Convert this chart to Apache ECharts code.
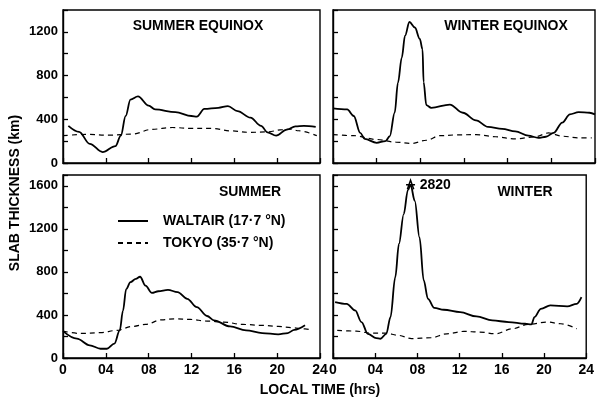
<!DOCTYPE html>
<html>
<head>
<meta charset="utf-8">
<script src="https://cdn.jsdelivr.net/npm/echarts@6/dist/echarts.min.js"></script>
<style>
  html, body { margin: 0; padding: 0; background: #fff; }
  #chart { width: 597px; height: 398px; }
</style>
</head>
<body>
<div id="chart"></div>
<script>
// slab thickness, [local time (hrs), km]
var hourTicks = ['0', '04', '08', '12', '16', '20', '24'];
var waltairName = 'WALTAIR (17·7 °N)';
var tokyoName = 'TOKYO (35·7 °N)';

// summer equinox
var seWaltair = [[0.5,340],[1.5,285],[2.5,175],[3.7,100],[4.9,155],[5.4,250],[5.85,430],[6.3,580],[7.0,610],[8.0,525],[8.6,490],[10.5,465],[12.0,430],[12.5,425],[13.2,495],[14.5,505],[15.4,520],[16.3,475],[17.5,415],[18.5,340],[19.1,280],[19.9,250],[20.9,305],[21.7,335],[22.5,340],[23.6,330]];
var seTokyo = [[0,250],[2.2,262],[4.3,255],[6.5,265],[8.3,308],[10.2,325],[12,316],[13.9,316],[15.7,294],[17.5,280],[19.1,285],[20.5,305],[21.3,310],[22,295],[23.7,250]];

// winter equinox
var weWaltair = [[0,500],[1.3,490],[1.9,430],[2.5,275],[2.9,220],[4.0,185],[4.8,200],[5.2,245],[5.65,460],[5.95,735],[6.3,965],[6.6,1165],[7.0,1290],[7.5,1240],[7.95,1135],[8.2,1040],[8.3,740],[8.55,530],[9.0,505],[10.7,535],[11.9,460],[13.1,390],[14.2,330],[15.5,313],[16.7,290],[17.9,250],[18.8,230],[19.5,240],[20.2,275],[21,370],[21.7,445],[22.5,465],[23.5,460],[24,445]];
var weTokyo = [[0,260],[1.9,250],[4,215],[5.8,190],[7.2,178],[8.55,208],[9.8,250],[11.3,257],[13.1,260],[14.9,240],[16.7,220],[18.5,240],[19.75,275],[21,245],[22.5,230],[23.7,230]];

// summer
var sWaltair = [[0,250],[1.3,180],[2.5,118],[3.5,86],[4.1,86],[4.8,133],[5.3,256],[5.6,440],[5.9,640],[6.3,705],[6.8,735],[7.2,755],[7.7,673],[8.3,605],[8.9,620],[9.8,633],[10.7,612],[11.6,550],[12.5,473],[13.45,390],[14.1,350],[15.6,293],[17.1,256],[18.6,232],[20.1,219],[21,232],[21.6,262],[22.6,305]];
var sTokyo = [[0,250],[1.6,228],[3.5,235],[5,256],[6.5,293],[7.7,312],[9.2,355],[10.4,364],[11.9,358],[13.45,343],[15,334],[16.8,312],[18.6,303],[20.1,293],[21.3,282],[22.6,270],[23.2,262]];

// winter
var wWaltair = [[0.2,520],[1.3,503],[2.1,442],[2.7,334],[3.3,225],[4.1,185],[4.5,179],[5.05,225],[5.45,380],[5.9,750],[6.25,1060],[6.7,1335],[7.1,1560],[7.35,1610],[7.75,1460],[8.2,1120],[8.6,720],[9.0,550],[9.6,466],[10.5,448],[12.05,426],[13.6,386],[15.1,349],[16.65,334],[18.2,318],[18.8,312],[19.1,380],[19.7,457],[20.6,488],[22.2,479],[23.1,503],[23.55,565]];
var wTokyo = [[0.4,256],[2.2,250],[3.5,232],[5,232],[6.2,210],[7.45,180],[9.3,188],[10.8,225],[12.4,247],[13.9,241],[15.4,225],[17,272],[18.5,312],[20.3,334],[21.6,318],[23.1,272]];
var winterPeak = [[7.35, 1610, 2820]];

var font = "'Liberation Sans', Arial, sans-serif";
var ink = '#000';

var myChart = echarts.init(document.getElementById('chart'));

function xAxisFor(gridIndex, showLabels) {
    return {
        type: 'value', gridIndex: gridIndex, min: 0, max: 24, interval: 4,
        axisLine: { show: true, lineStyle: { color: ink, width: 1.4 } },
        axisTick: { show: true, inside: true, length: 5, lineStyle: { color: ink, width: 1.3 } },
        splitLine: { show: false },
        axisLabel: {
            show: showLabels, margin: 5, color: ink, fontFamily: font, fontSize: 14, fontWeight: 'bold',
            formatter: function (v) { return hourTicks[v / 4]; }
        }
    };
}

function yAxisFor(gridIndex, max, showLabels) {
    return {
        type: 'value', gridIndex: gridIndex, min: 0, max: max, interval: 200,
        axisLine: { show: true, lineStyle: { color: ink, width: 1.4 } },
        axisTick: { show: true, inside: true, length: 5, lineStyle: { color: ink, width: 1.3 } },
        splitLine: { show: false },
        axisLabel: {
            show: showLabels, margin: 5, color: ink, fontFamily: font, fontSize: 13, fontWeight: 'bold',
            formatter: function (v) { return v % 400 === 0 ? String(v) : ''; }
        }
    };
}

function curve(name, data, idx, dashed) {
    return {
        name: name, type: 'line', xAxisIndex: idx, yAxisIndex: idx,
        data: data, symbol: 'none', smooth: 0.35, smoothMonotone: 'x',
        color: ink,
        lineStyle: { color: ink, width: dashed ? 1.2 : 1.8, type: dashed ? [5, 4] : 'solid' },
        z: dashed ? 3 : 4
    };
}

var gridBox = { show: true, borderColor: ink, borderWidth: 1.4, backgroundColor: 'transparent' };

function label(text, x, y, rotation) {
    return {
        type: 'text', x: x, y: y, rotation: rotation || 0,
        style: { text: text, font: 'bold 14px ' + font, fill: ink, align: 'center', verticalAlign: 'middle' }
    };
}

var option = {
    backgroundColor: '#fff',
    animation: false,
    grid: [
        Object.assign({ left: 63, top: 10, width: 257, height: 153 }, gridBox),
        Object.assign({ left: 333, top: 10, width: 262, height: 153 }, gridBox),
        Object.assign({ left: 63, top: 175, width: 257, height: 183 }, gridBox),
        Object.assign({ left: 333, top: 175, width: 262, height: 183 }, gridBox)
    ],
    xAxis: [xAxisFor(0, false), xAxisFor(1, false), xAxisFor(2, true), xAxisFor(3, true)],
    yAxis: [yAxisFor(0, 1400, true), yAxisFor(1, 1400, false), yAxisFor(2, 1700, true), yAxisFor(3, 1700, false)],
    legend: {
        left: 112, top: 209, orient: 'vertical', itemGap: 8,
        itemWidth: 30, itemHeight: 12,
        data: [waltairName, tokyoName],
        itemStyle: { opacity: 0 },
        textStyle: { color: ink, fontFamily: font, fontSize: 14, fontWeight: 'bold', padding: [0, 0, 0, 10] }
    },
    series: [
        curve(waltairName, seWaltair, 0, false),
        curve(tokyoName, seTokyo, 0, true),
        curve(waltairName, weWaltair, 1, false),
        curve(tokyoName, weTokyo, 1, true),
        curve(waltairName, sWaltair, 2, false),
        curve(tokyoName, sTokyo, 2, true),
        curve(waltairName, wWaltair, 3, false),
        curve(tokyoName, wTokyo, 3, true),
        {
            name: 'peak', type: 'scatter', xAxisIndex: 3, yAxisIndex: 3,
            data: winterPeak, symbol: 'path://M0,12 L5,0 L10,12 M-2,6 L12,6', symbolSize: [9, 9],
            itemStyle: { color: 'transparent', borderColor: ink, borderWidth: 1.4, opacity: 1 },
            label: {
                show: true, position: 'right', distance: 4, color: ink, fontFamily: font, fontSize: 14, fontWeight: 'bold',
                formatter: function (p) { return String(p.data[2]); }
            },
            z: 5
        }
    ],
    graphic: [
        label('SUMMER EQUINOX', 198, 26),
        label('WINTER EQUINOX', 506, 26),
        label('SUMMER', 250, 192),
        label('WINTER', 525, 192),
        label('LOCAL TIME (hrs)', 320, 390),
        label('SLAB THICKNESS (km)', 15, 193, Math.PI / 2)
    ]
};

myChart.setOption(option, true);
</script>
</body>
</html>
